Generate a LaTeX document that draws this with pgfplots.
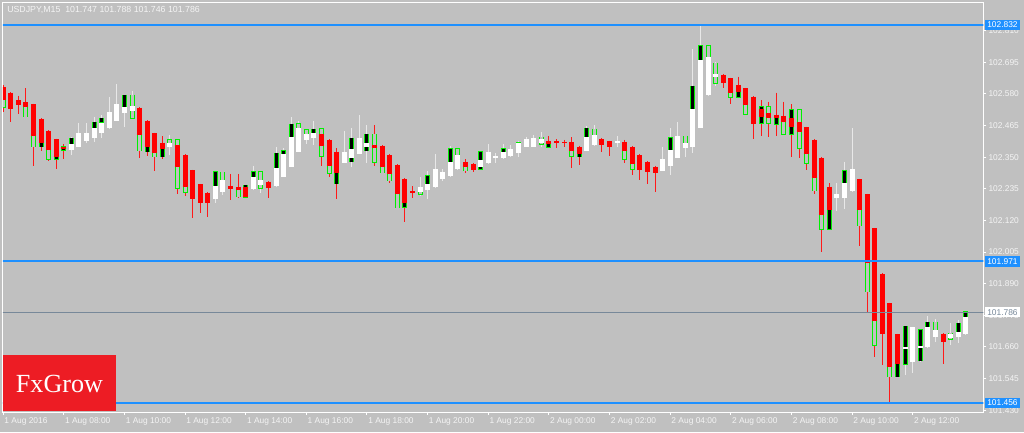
\documentclass[border=0pt]{standalone}
\usepackage{pgfplots}
\pgfplotsset{compat=1.18}
\usepackage{pgfplotstable}
\usetikzlibrary{backgrounds,calc}
\usepackage{fontspec}
\setmainfont{Liberation Sans}
\newfontfamily\logofont{Liberation Serif}

\definecolor{chartbg}{RGB}{192,192,192}
\definecolor{fg}{RGB}{244,244,244}
\definecolor{linebl}{RGB}{30,144,255}
\definecolor{slate}{RGB}{119,136,153}
\definecolor{barg}{RGB}{0,240,0}
\definecolor{bearred}{RGB}{255,0,0}
\definecolor{wickw}{RGB}{232,232,232}
\definecolor{fxred}{RGB}{237,28,36}

\setlength{\fboxsep}{1.6pt}
\newcommand{\bluetag}[1]{\colorbox{linebl}{\textcolor{white}{#1}}}
\newcommand{\whitetag}[1]{\colorbox{white}{\textcolor{slate}{#1}}}

% USDJPY M15, bar index 0 = 1 Aug 06:00
\pgfplotstableread{
x o h l c
9 102.376 102.422 102.358 102.398
10 102.388 102.476 102.386 102.437
11 102.410 102.473 102.403 102.437
12 102.419 102.497 102.406 102.455
13 102.437 102.503 102.419 102.476
14 102.455 102.570 102.453 102.513
15 102.483 102.616 102.481 102.543
16 102.510 102.576 102.461 102.531
17 102.519 102.592 102.489 102.536
22 102.388 102.431 102.358 102.403
28 102.198 102.297 102.182 102.246
29 102.225 102.295 102.213 102.267
33 102.233 102.319 102.231 102.279
34 102.249 102.297 102.219 102.267
36 102.245 102.388 102.240 102.310
37 102.279 102.382 102.277 102.362
38 102.316 102.497 102.314 102.425
39 102.370 102.482 102.368 102.455
40 102.413 102.449 102.398 102.434
41 102.419 102.483 102.394 102.437
45 102.330 102.446 102.328 102.368
46 102.346 102.457 102.313 102.380
47 102.362 102.503 102.360 102.419
48 102.388 102.467 102.328 102.400
55 102.225 102.277 102.209 102.240
56 102.231 102.300 102.197 102.253
57 102.240 102.362 102.238 102.306
58 102.271 102.306 102.265 102.297
59 102.282 102.391 102.279 102.334
60 102.306 102.380 102.304 102.358
63 102.316 102.374 102.303 102.340
64 102.328 102.398 102.326 102.370
65 102.346 102.366 102.328 102.354
66 102.348 102.398 102.342 102.370
67 102.354 102.394 102.352 102.379
68 102.366 102.410 102.352 102.400
69 102.388 102.425 102.386 102.415
70 102.388 102.431 102.386 102.419
71 102.400 102.440 102.388 102.415
77 102.374 102.463 102.372 102.422
78 102.394 102.467 102.392 102.431
81 102.400 102.427 102.388 102.408
87 102.301 102.388 102.299 102.342
88 102.319 102.457 102.285 102.376
89 102.348 102.477 102.346 102.427
90 102.382 102.427 102.352 102.401
91 102.386 102.742 102.367 102.525
92 102.457 102.832 102.455 102.703
93 102.576 102.756 102.574 102.716
94 102.643 102.697 102.609 102.653
110 102.200 102.255 102.154 102.215
111 102.203 102.334 102.160 102.255
112 102.227 102.457 102.225 102.307
119 101.651 101.736 101.558 101.659
120 101.606 101.731 101.564 101.731
121 101.657 101.724 101.606 101.665
122 101.659 101.773 101.657 101.734
123 101.697 101.762 101.679 101.722
125 101.694 101.746 101.667 101.706
126 101.695 101.758 101.673 101.716
127 101.707 101.791 101.705 101.770
}\bull

\pgfplotstableread{
x o h l c
0 102.604 102.613 102.516 102.558
1 102.585 102.587 102.479 102.524
2 102.558 102.574 102.506 102.541
3 102.550 102.600 102.495 102.534
4 102.543 102.545 102.319 102.428
5 102.489 102.491 102.373 102.400
6 102.446 102.448 102.337 102.376
7 102.416 102.418 102.306 102.350
8 102.388 102.398 102.343 102.379
18 102.530 102.532 102.346 102.431
19 102.482 102.484 102.356 102.388
20 102.437 102.439 102.300 102.364
21 102.403 102.427 102.342 102.379
23 102.394 102.413 102.215 102.316
24 102.358 102.360 102.209 102.243
25 102.303 102.305 102.128 102.197
26 102.251 102.253 102.146 102.182
27 102.221 102.223 102.134 102.185
30 102.246 102.289 102.194 102.233
31 102.243 102.289 102.200 102.231
32 102.243 102.249 102.200 102.206
35 102.261 102.263 102.203 102.237
42 102.433 102.453 102.319 102.392
43 102.413 102.415 102.279 102.319
44 102.370 102.382 102.197 102.294
49 102.394 102.467 102.318 102.385
50 102.392 102.394 102.294 102.316
51 102.358 102.360 102.257 102.288
52 102.322 102.324 102.164 102.216
53 102.271 102.273 102.116 102.182
54 102.227 102.245 102.200 102.221
61 102.334 102.342 102.291 102.316
62 102.325 102.328 102.297 102.303
72 102.409 102.427 102.382 102.397
73 102.409 102.415 102.382 102.400
74 102.406 102.413 102.388 102.400
75 102.404 102.422 102.312 102.374
76 102.388 102.392 102.322 102.362
79 102.416 102.419 102.370 102.394
80 102.409 102.410 102.356 102.388
82 102.406 102.413 102.328 102.374
83 102.388 102.390 102.285 102.325
84 102.358 102.360 102.267 102.303
85 102.334 102.336 102.251 102.295
86 102.316 102.318 102.222 102.291
95 102.649 102.651 102.600 102.621
96 102.637 102.639 102.543 102.582
97 102.613 102.643 102.568 102.588
98 102.600 102.602 102.506 102.540
99 102.570 102.572 102.415 102.471
100 102.525 102.558 102.427 102.495
101 102.512 102.552 102.422 102.491
102 102.503 102.585 102.427 102.491
103 102.500 102.552 102.431 102.479
104 102.494 102.542 102.352 102.461
105 102.477 102.522 102.348 102.443
106 102.459 102.461 102.303 102.362
107 102.413 102.415 102.216 102.273
108 102.348 102.350 102.007 102.140
109 102.243 102.255 102.088 102.158
113 102.270 102.272 102.027 102.158
114 102.215 102.217 101.788 101.964
115 102.091 102.093 101.625 101.756
116 101.924 101.928 101.593 101.706
117 101.819 101.821 101.456 101.588
118 101.706 101.708 101.552 101.598
124 101.707 101.709 101.597 101.679
}\bear

% green outlined boxes, filled black
\pgfplotstableread{
x lo hi
5 102.388 102.400
7 102.342 102.350
8 102.376 102.388
9 102.398 102.419
12 102.455 102.478
13 102.478 102.491
16 102.531 102.576
19 102.370 102.388
21 102.352 102.379
28 102.246 102.297
32 102.204 102.249
33 102.279 102.297
36 102.310 102.364
37 102.362 102.374
38 102.425 102.470
41 102.437 102.451
44 102.253 102.294
46 102.334 102.419
48 102.374 102.433
53 102.168 102.182
56 102.253 102.282
59 102.334 102.380
63 102.306 102.370
66 102.370 102.380
68 102.382 102.403
72 102.386 102.397
76 102.352 102.362
77 102.422 102.455
88 102.376 102.421
91 102.525 102.609
92 102.703 102.756
97 102.568 102.588
100 102.473 102.534
102 102.470 102.503
104 102.434 102.522
109 102.088 102.158
111 102.255 102.301
118 101.552 101.598
119 101.598 101.736
121 101.610 101.722
122 101.734 101.750
126 101.716 101.746
127 101.770 101.788
}\gdark

% green outlined boxes, hollow
\pgfplotstableread{
x lo hi
0 102.531 102.558
3 102.497 102.534
4 102.388 102.428
6 102.342 102.376
17 102.491 102.576
18 102.373 102.431
20 102.352 102.364
22 102.403 102.413
23 102.237 102.413
24 102.222 102.243
29 102.225 102.295
31 102.206 102.231
34 102.237 102.297
39 102.455 102.471
40 102.434 102.449
42 102.354 102.453
43 102.291 102.319
49 102.331 102.433
50 102.294 102.316
51 102.265 102.288
52 102.167 102.216
55 102.216 102.225
60 102.358 102.380
61 102.301 102.316
71 102.398 102.422
75 102.354 102.374
78 102.431 102.451
82 102.343 102.374
83 102.307 102.325
90 102.385 102.427
93 102.716 102.756
94 102.619 102.691
96 102.568 102.582
98 102.506 102.540
101 102.473 102.534
103 102.433 102.479
105 102.382 102.522
106 102.328 102.362
107 102.228 102.273
108 102.088 102.140
113 102.100 102.158
114 101.861 101.964
115 101.666 101.756
117 101.552 101.588
120 101.606 101.731
123 101.697 101.750
125 101.688 101.710
}\glight

\pgfplotsset{
  stick/.style={forget plot, draw=none, mark=none,
    error bars/.cd, y dir=minus, y explicit, error mark=none,
    error bar style={line width=#1}},
}

\begin{document}
\begin{tikzpicture}[x=0.75pt,y=0.75pt]
\begin{axis}[
  scale only axis, width=735.2pt, height=307.1pt,
  xmin=-0.02, xmax=129.31, ymin=101.4235, ymax=102.9125,
  axis line style={white, line width=0.75pt},
  tick align=outside, major tick length=2.25pt,
  tick style={white, line width=0.75pt},
  xtick pos=left, ytick pos=right, yticklabel pos=right,
  xtick={0,8,...,120},
  xticklabels={1 Aug 2016, 1 Aug 08:00, 1 Aug 10:00, 1 Aug 12:00, 1 Aug 14:00, 1 Aug 16:00, 1 Aug 18:00, 1 Aug 20:00, 1 Aug 22:00, 2 Aug 00:00, 2 Aug 02:00, 2 Aug 04:00, 2 Aug 06:00, 2 Aug 08:00, 2 Aug 10:00, 2 Aug 12:00},
  xticklabel style={anchor=north west, inner sep=0pt, xshift=0.8pt, yshift=-2pt,
    text=fg, font=\fontsize{6.3}{7}\selectfont},
  ytick={102.810,102.695,102.580,102.465,102.350,102.235,102.120,102.005,101.890,101.775,101.660,101.545,101.430},
  yticklabels={102.810,102.695,102.580,102.465,102.350,102.235,102.120,102.005,101.890,101.775,101.660,101.545,101.430},
  yticklabel style={anchor=west, inner sep=0pt, xshift=1.5pt,
    text=fg, font=\fontsize{6.3}{7}\selectfont},
  extra y ticks={102.832,101.971,101.786,101.456},
  extra y tick labels={\bluetag{102.832},\bluetag{101.971},\whitetag{101.786},\bluetag{101.456}},
  extra y tick style={major tick length=0pt, yticklabel style={xshift=-0.3pt}},
]
\coordinate (O) at (rel axis cs:0,0);
% wicks
\addplot[stick=0.75pt, error bar style={draw=wickw}]
  table[x=x, y=h, y error minus expr=\thisrow{h}-\thisrow{l}] {\bull};
\addplot[stick=0.75pt, error bar style={draw=bearred!90!white}]
  table[x=x, y=h, y error minus expr=\thisrow{h}-\thisrow{l}] {\bear};
% green boxes
\addplot[stick=3.75pt, error bar style={draw=barg}]
  table[x=x, y expr=\thisrow{hi}+0.0018, y error minus expr=\thisrow{hi}-\thisrow{lo}+0.0036] {\gdark};
\addplot[stick=2.25pt, error bar style={draw=black}]
  table[x=x, y=hi, y error minus expr=\thisrow{hi}-\thisrow{lo}] {\gdark};
\addplot[stick=3.75pt, error bar style={draw=barg}]
  table[x=x, y expr=\thisrow{hi}+0.0018, y error minus expr=\thisrow{hi}-\thisrow{lo}+0.0036] {\glight};
\addplot[stick=2.25pt, error bar style={draw=chartbg}]
  table[x=x, y=hi, y error minus expr=\thisrow{hi}-\thisrow{lo}] {\glight};
% bodies
\addplot[stick=3.75pt, error bar style={draw=white}]
  table[x=x, y=c, y error minus expr={max(\thisrow{c}-\thisrow{o},0.0036)}] {\bull};
\addplot[stick=3.75pt, error bar style={draw=bearred}]
  table[x=x, y=o, y error minus expr={max(\thisrow{o}-\thisrow{c},0.0036)}] {\bear};
% horizontal lines
\addplot[forget plot, linebl, line width=1.5pt] coordinates {(-5,102.832) (140,102.832)};
\addplot[forget plot, linebl, line width=1.5pt] coordinates {(-5,101.971) (140,101.971)};
\addplot[forget plot, linebl, line width=1.5pt] coordinates {(-5,101.456) (140,101.456)};
\addplot[forget plot, slate, line width=0.75pt] coordinates {(-5,101.786) (140,101.786)};
\end{axis}
\begin{scope}[on background layer]
\fill[chartbg] ($(O)+(-3,-20)$) rectangle ($(O)+(1021,412)$);
\end{scope}
\node[anchor=west, inner sep=0pt, text=fg, font=\fontsize{6.6}{7}\selectfont]
  at ($(O)+(4,402)$) {USDJPY,M15\ \ 101.747 101.788 101.746 101.786};
\fill[fxred] ($(O)+(-0.4,0.8)$) rectangle ($(O)+(113.3,57)$);
\node[text=white, inner sep=0pt, font=\logofont\fontsize{19.6}{20}\selectfont]
  at ($(O)+(56.5,28.5)$) {FxGrow};
\pgfresetboundingbox
\path[use as bounding box] ($(O)+(-3,-20)$) rectangle ($(O)+(1021,412)$);
\end{tikzpicture}
\end{document}
